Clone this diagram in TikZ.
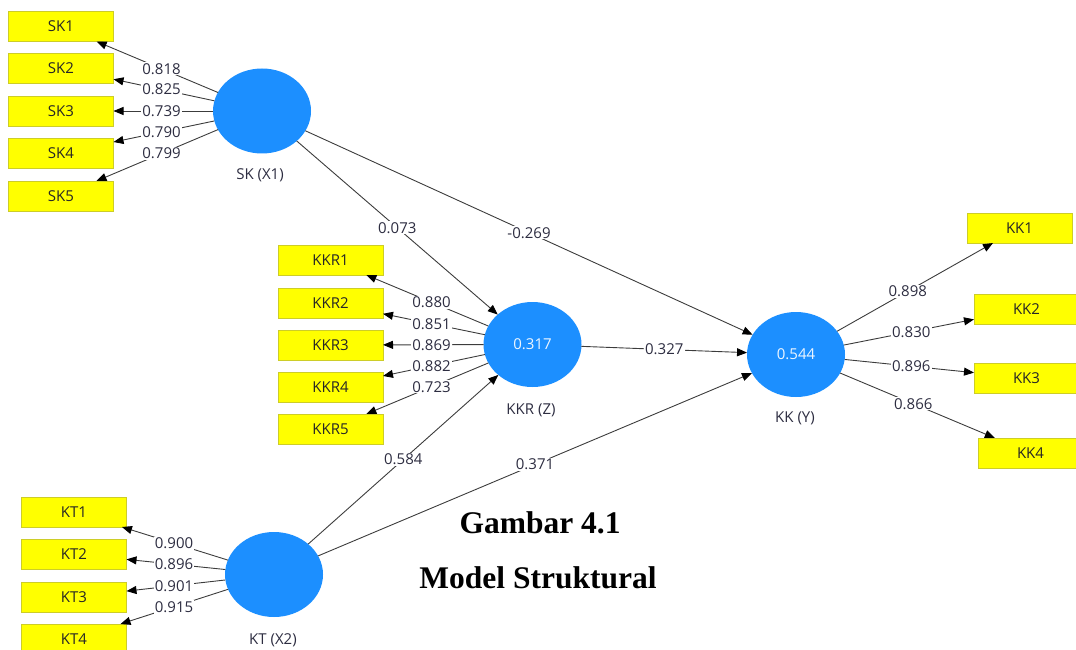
\documentclass[tikz,border=0pt]{standalone}
\usepackage{fontspec}
\setmainfont{Open Sans}
\newfontfamily\capfont{Liberation Serif}
\usetikzlibrary{shapes.geometric,arrows.meta,calc}
\definecolor{lvblue}{RGB}{28,143,255}
\definecolor{indyellow}{RGB}{255,255,0}
\definecolor{indborder}{RGB}{205,205,40}
\definecolor{edgegray}{RGB}{60,60,60}
\definecolor{lbltext}{RGB}{45,45,65}
\tikzset{
  lvnode/.style={ellipse, fill=lvblue, minimum width=98pt, minimum height=85pt, inner sep=0pt, outer sep=0pt, text=white!92!lvblue, font=\fontsize{15}{18}\selectfont},
  indnode/.style={rectangle, fill=indyellow, draw=indborder, line width=0.8pt, minimum width=105pt, minimum height=30pt, inner sep=0pt, outer sep=0pt, text=black!85, font=\fontsize{15}{18}\selectfont},
  conn/.style={draw=edgegray, line width=0.9pt, -{Triangle[length=10pt,width=8pt,color=black]}},
  lbl/.style={fill=white, inner sep=1.2pt, text=lbltext, font=\fontsize{15}{18}\selectfont},
  lvname/.style={text=lbltext, font=\fontsize{15}{18}\selectfont},
  caption/.style={anchor=base, font=\capfont\bfseries\fontsize{31.5}{36}\selectfont, text=black}
}
\begin{document}
\begin{tikzpicture}[x=1pt,y=-1pt]
\useasboundingbox (0,0) rectangle (1076,650);
% latent variables
\node[lvnode] (sk) at (262,111) {};
\node[lvnode] (kkr) at (532.5,344.5) {0.317};
\node[lvnode] (kt) at (274,574.5) {};
\node[lvnode] (kk) at (796,354.5) {0.544};
\node[lvname] (skn) at (260,175) {SK (X1)};
\node[lvname] (kkrn) at (531,410) {KKR (Z)};
\node[lvname] (ktn) at (273,640) {KT (X2)};
\node[lvname] (kkn) at (795,418) {KK (Y)};
% indicators
\node[indnode] (sk1) at (61,26.5) {SK1};
\node[indnode] (sk2) at (61,68) {SK2};
\node[indnode] (sk3) at (61,111) {SK3};
\node[indnode] (sk4) at (61,153) {SK4};
\node[indnode] (sk5) at (61,196) {SK5};
\node[indnode] (kkr1) at (330.5,260) {KKR1};
\node[indnode] (kkr2) at (330.5,303) {KKR2};
\node[indnode] (kkr3) at (330.5,345) {KKR3};
\node[indnode] (kkr4) at (330.5,387) {KKR4};
\node[indnode] (kkr5) at (330.5,429) {KKR5};
\node[indnode] (kt1) at (74,512) {KT1};
\node[indnode] (kt2) at (74,554) {KT2};
\node[indnode] (kt3) at (74,597) {KT3};
\node[indnode] (kt4) at (74,639) {KT4};
\node[indnode] (kk1) at (1019.5,228) {KK1};
\node[indnode] (kk2) at (1026.5,309) {KK2};
\node[indnode] (kk3) at (1026.5,378) {KK3};
\node[indnode] (kk4) at (1030.5,453) {KK4};
% connectors
\foreach \a/\b in {sk/sk1,sk/sk2,sk/sk3,sk/sk4,sk/sk5,
  kkr/kkr1,kkr/kkr2,kkr/kkr3,kkr/kkr4,kkr/kkr5,
  kt/kt1,kt/kt2,kt/kt3,kt/kt4,
  kk/kk1,kk/kk2,kk/kk3,kk/kk4,
  sk/kkr,sk/kk,kkr/kk,kt/kkr,kt/kk}
  {\draw[conn] (\a) -- (\b);}
% labels
\foreach \a/\b/\v in {sk/sk1/0.818,sk/sk2/0.825,sk/sk3/0.739,sk/sk4/0.790,sk/sk5/0.799,
  kkr/kkr1/0.880,kkr/kkr2/0.851,kkr/kkr3/0.869,kkr/kkr4/0.882,kkr/kkr5/0.723,
  kt/kt1/0.900,kt/kt2/0.896,kt/kt3/0.901,kt/kt4/0.915,
  kk/kk1/0.898,kk/kk2/0.830,kk/kk3/0.896,kk/kk4/0.866,
  sk/kkr/0.073,sk/kk/-0.269,kkr/kk/0.327,kt/kkr/0.584,kt/kk/0.371}
  {\node[lbl] (l-\a-\b) at ($(\a)!0.5!(\b)$) {\v};}
% caption
\node[caption] (cap1) at (540,533) {Gambar 4.1};
\node[caption] (cap2) at (538,588) {Model Struktural};
\end{tikzpicture}
\end{document}
